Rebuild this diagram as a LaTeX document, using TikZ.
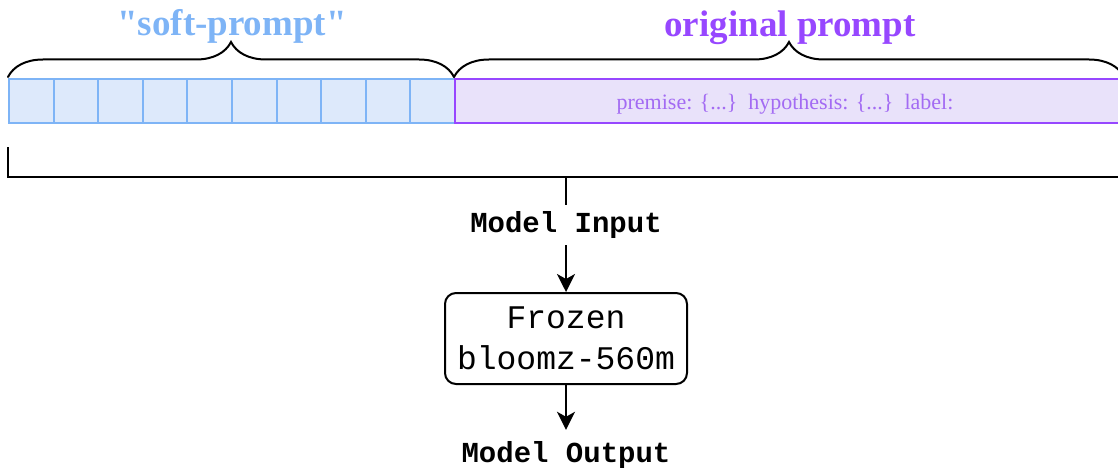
\documentclass[tikz,border=0pt]{standalone}
\usepackage{fontspec}
\setmainfont{Liberation Serif}
\setmonofont{Liberation Mono}
\newfontfamily\plainserif{Liberation Serif}
\usetikzlibrary{decorations.pathreplacing,arrows.meta}
\definecolor{softblue}{HTML}{7EB4F6}
\definecolor{softfill}{HTML}{DDE9FB}
\definecolor{purp}{HTML}{9747FF}
\definecolor{purpfill}{HTML}{E9E2FA}
\definecolor{purptext}{HTML}{A36BF3}
\tikzset{
  cellbox/.style={draw=softblue, fill=softfill, line width=2pt, minimum width=44.6pt, minimum height=44pt, inner sep=0pt, anchor=north west},
  origbox/.style={draw=purp, fill=purpfill, line width=2pt, minimum width=672pt, minimum height=44pt, inner sep=0pt, anchor=north west},
  curly/.style={decorate, decoration={brace, amplitude=35pt}, line width=2pt, line cap=round},
  biglabel/.style={font=\fontsize{37}{44}\selectfont\bfseries, anchor=base, inner sep=0pt},
  monolabel/.style={font=\fontsize{29}{34}\selectfont\ttfamily\bfseries, inner sep=0pt},
  modelbox/.style={draw, line width=2pt, rounded corners=11pt, minimum width=242pt, minimum height=91pt, inner sep=0pt, align=center, font=\fontsize{33}{41}\selectfont\ttfamily},
  flow/.style={line width=2pt, -{Stealth[length=18pt, width=18pt, inset=5pt]}}
}
\begin{document}
\begin{tikzpicture}[x=1pt, y=-1pt]
\useasboundingbox (0,0) rectangle (1118,468);
% soft prompt cells
\foreach \i in {0,...,9} {
  \node[cellbox] (c\i) at ({8+44.6*\i},78) {};
}
% original prompt box
\node[origbox] (orig) at (454,78) {};
\node[anchor=base, inner sep=0pt, text=purptext, font=\fontsize{22}{26}\selectfont] (prem) at (785,110) {premise: \{...\}\ \ hypothesis: \{...\}\ \ label:};
% braces
\coordinate (sL) at (8,77);
\coordinate (sR) at (454,77);
\coordinate (oR) at (1124,77);
\draw[curly] (sL) -- (sR);
\draw[curly] (sR) -- (oR);
\node[biglabel, text=softblue, font=\fontsize{37}{44}\selectfont\plainserif\bfseries] (softlbl) at (232,36) {"soft-prompt"};
\node[biglabel, text=purp] (origlbl) at (790,37) {original prompt};
% bottom bracket
\coordinate (bL) at (8,147);
\coordinate (bR) at (1130,177);
\coordinate (stem) at (566,177);
\draw[line width=2pt] (bL) |- (bR);
% model input / box / output
\node[monolabel, anchor=base] (inp) at (566,232) {Model Input};
\draw[line width=2pt] (stem) -- ([yshift=6pt]inp.north);
\node[modelbox] (model) at (566,338.5) {Frozen\ \\bloomz-560m};
\node[monolabel, anchor=base] (outp) at (566,462) {Model Output};
\draw[flow] ([yshift=-7pt]inp.south) -- (model.north);
\draw[flow] (model.south) -- ([yshift=11pt]outp.north);
\end{tikzpicture}
\end{document}
